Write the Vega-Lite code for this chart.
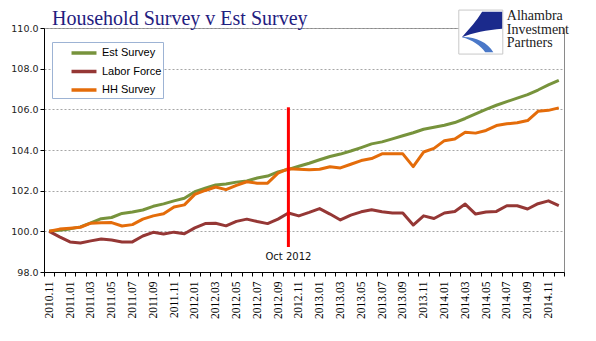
{
  "$schema": "https://vega.github.io/schema/vega-lite/v6.json",
  "width": 520,
  "height": 244,
  "autosize": {"type": "none"},
  "padding": {"left": 44, "top": 28, "right": 32, "bottom": 69},
  "background": "white",
  "title": {
    "text": "Household Survey v Est Survey",
    "anchor": "start",
    "frame": "group",
    "dx": 8,
    "dy": 23,
    "offset": 2,
    "font": "Liberation Serif",
    "fontSize": 20,
    "fontWeight": "normal",
    "color": "#1F2080"
  },
  "config": {
    "view": {"stroke": "#8a8a8a", "strokeWidth": 1},
    "font": "Liberation Sans"
  },
  "layer": [
    {
      "data": {
        "values": [
          {"month": "2010.11", "Est Survey": 100.0, "Labor Force": 100.0, "HH Survey": 100.0},
          {"month": "2010.12", "Est Survey": 100.05, "Labor Force": 99.73, "HH Survey": 100.11},
          {"month": "2011.01", "Est Survey": 100.12, "Labor Force": 99.48, "HH Survey": 100.15},
          {"month": "2011.02", "Est Survey": 100.22, "Labor Force": 99.43, "HH Survey": 100.2},
          {"month": "2011.03", "Est Survey": 100.42, "Labor Force": 99.53, "HH Survey": 100.4},
          {"month": "2011.04", "Est Survey": 100.62, "Labor Force": 99.62, "HH Survey": 100.42},
          {"month": "2011.05", "Est Survey": 100.68, "Labor Force": 99.57, "HH Survey": 100.43},
          {"month": "2011.06", "Est Survey": 100.88, "Labor Force": 99.48, "HH Survey": 100.26},
          {"month": "2011.07", "Est Survey": 100.95, "Labor Force": 99.48, "HH Survey": 100.33},
          {"month": "2011.08", "Est Survey": 101.05, "Labor Force": 99.77, "HH Survey": 100.6},
          {"month": "2011.09", "Est Survey": 101.23, "Labor Force": 99.95, "HH Survey": 100.76},
          {"month": "2011.10", "Est Survey": 101.35, "Labor Force": 99.87, "HH Survey": 100.86},
          {"month": "2011.11", "Est Survey": 101.5, "Labor Force": 99.96, "HH Survey": 101.2},
          {"month": "2011.12", "Est Survey": 101.63, "Labor Force": 99.88, "HH Survey": 101.3},
          {"month": "2012.01", "Est Survey": 101.95, "Labor Force": 100.17, "HH Survey": 101.82},
          {"month": "2012.02", "Est Survey": 102.12, "Labor Force": 100.38, "HH Survey": 102.01},
          {"month": "2012.03", "Est Survey": 102.28, "Labor Force": 100.4, "HH Survey": 102.18},
          {"month": "2012.04", "Est Survey": 102.33, "Labor Force": 100.27, "HH Survey": 102.05},
          {"month": "2012.05", "Est Survey": 102.42, "Labor Force": 100.49, "HH Survey": 102.26},
          {"month": "2012.06", "Est Survey": 102.48, "Labor Force": 100.6, "HH Survey": 102.44},
          {"month": "2012.07", "Est Survey": 102.62, "Labor Force": 100.48, "HH Survey": 102.37},
          {"month": "2012.08", "Est Survey": 102.72, "Labor Force": 100.38, "HH Survey": 102.37},
          {"month": "2012.09", "Est Survey": 102.92, "Labor Force": 100.6, "HH Survey": 102.86},
          {"month": "2012.10", "Est Survey": 103.05, "Labor Force": 100.9, "HH Survey": 103.08},
          {"month": "2012.11", "Est Survey": 103.2, "Labor Force": 100.76, "HH Survey": 103.05},
          {"month": "2012.12", "Est Survey": 103.35, "Labor Force": 100.93, "HH Survey": 103.03},
          {"month": "2013.01", "Est Survey": 103.52, "Labor Force": 101.12, "HH Survey": 103.05},
          {"month": "2013.02", "Est Survey": 103.68, "Labor Force": 100.85, "HH Survey": 103.18},
          {"month": "2013.03", "Est Survey": 103.8, "Labor Force": 100.56, "HH Survey": 103.12},
          {"month": "2013.04", "Est Survey": 103.95, "Labor Force": 100.8, "HH Survey": 103.3},
          {"month": "2013.05", "Est Survey": 104.12, "Labor Force": 100.96, "HH Survey": 103.48},
          {"month": "2013.06", "Est Survey": 104.3, "Labor Force": 101.06, "HH Survey": 103.58},
          {"month": "2013.07", "Est Survey": 104.4, "Labor Force": 100.96, "HH Survey": 103.81},
          {"month": "2013.08", "Est Survey": 104.55, "Labor Force": 100.9, "HH Survey": 103.81},
          {"month": "2013.09", "Est Survey": 104.7, "Labor Force": 100.9, "HH Survey": 103.81},
          {"month": "2013.10", "Est Survey": 104.85, "Labor Force": 100.31, "HH Survey": 103.18},
          {"month": "2013.11", "Est Survey": 105.02, "Labor Force": 100.76, "HH Survey": 103.9},
          {"month": "2013.12", "Est Survey": 105.12, "Labor Force": 100.63, "HH Survey": 104.08},
          {"month": "2014.01", "Est Survey": 105.22, "Labor Force": 100.9, "HH Survey": 104.46},
          {"month": "2014.02", "Est Survey": 105.35, "Labor Force": 100.98, "HH Survey": 104.54},
          {"month": "2014.03", "Est Survey": 105.55, "Labor Force": 101.34, "HH Survey": 104.87},
          {"month": "2014.04", "Est Survey": 105.78, "Labor Force": 100.85, "HH Survey": 104.83},
          {"month": "2014.05", "Est Survey": 106.0, "Labor Force": 100.95, "HH Survey": 104.96},
          {"month": "2014.06", "Est Survey": 106.2, "Labor Force": 100.98, "HH Survey": 105.2},
          {"month": "2014.07", "Est Survey": 106.38, "Labor Force": 101.26, "HH Survey": 105.29},
          {"month": "2014.08", "Est Survey": 106.55, "Labor Force": 101.26, "HH Survey": 105.34},
          {"month": "2014.09", "Est Survey": 106.72, "Labor Force": 101.1, "HH Survey": 105.45},
          {"month": "2014.10", "Est Survey": 106.95, "Labor Force": 101.36, "HH Survey": 105.9},
          {"month": "2014.11", "Est Survey": 107.2, "Labor Force": 101.5, "HH Survey": 105.95},
          {"month": "2014.12", "Est Survey": 107.42, "Labor Force": 101.27, "HH Survey": 106.07}
        ]
      },
      "transform": [
        {"fold": ["Est Survey", "Labor Force", "HH Survey"], "as": ["series", "value"]}
      ],
      "mark": {"type": "line", "strokeWidth": 3, "strokeJoin": "round"},
      "encoding": {
        "x": {
          "field": "month",
          "type": "ordinal",
          "bandPosition": 0.5,
          "scale": {"type": "band", "paddingInner": 0, "paddingOuter": 0},
          "axis": {
            "title": null,
            "labelAngle": -90,
            "labelAlign": "right",
            "labelBaseline": "middle",
            "labelFont": "Liberation Serif",
            "labelFontSize": 11.5,
            "labelColor": "black",
            "labelPadding": 5,
            "labelOverlap": false,
            "labelExpr": "toNumber(substring(datum.value, 5, 7)) % 2 == 1 ? datum.label : ''",
            "tickBand": "extent",
            "tickSize": 4,
            "tickColor": "black",
            "domainColor": "black",
            "grid": false
          }
        },
        "y": {
          "field": "value",
          "type": "quantitative",
          "scale": {"domain": [98, 110], "zero": false, "nice": false},
          "axis": {
            "title": null,
            "values": [98, 100, 102, 104, 106, 108, 110],
            "format": ".1f",
            "labelFont": "DejaVu Sans",
            "labelFontSize": 9.5,
            "labelColor": "#222222",
            "labelPadding": 2,
            "tickSize": 4,
            "tickColor": "black",
            "domainColor": "black",
            "gridColor": "#a6a6a6",
            "gridDash": [2, 2]
          }
        },
        "color": {
          "field": "series",
          "type": "nominal",
          "scale": {
            "domain": ["Est Survey", "Labor Force", "HH Survey"],
            "range": ["#77933C", "#953735", "#E46C0A"]
          },
          "legend": {
            "orient": "none",
            "legendX": 8,
            "legendY": 14,
            "title": null,
            "direction": "vertical",
            "strokeColor": "#9DB3D4",
            "fillColor": "white",
            "padding": 1,
            "rowPadding": 1.5,
            "labelFont": "Liberation Sans",
            "labelFontSize": 11,
            "labelColor": "black",
            "symbolType": "M-1.56,0H1.56",
            "symbolSize": 256,
            "symbolStrokeWidth": 3.5,
            "symbolOffset": 21,
            "labelOffset": 8,
            "labelExpr": "datum.label + '\u2003\u2003'"
          }
        }
      }
    },
    {
      "data": {"values": [{}]},
      "mark": {"type": "rule", "color": "#FF0000", "strokeWidth": 3},
      "encoding": {
        "x": {"datum": "2012.10", "type": "ordinal", "bandPosition": 0.5},
        "y": {"datum": 106.1, "type": "quantitative"},
        "y2": {"datum": 99.23}
      }
    },
    {
      "data": {"values": [{}]},
      "mark": {"type": "text", "text": "Oct 2012", "font": "DejaVu Sans", "fontSize": 10, "color": "#111111", "baseline": "middle", "align": "center"},
      "encoding": {
        "x": {"datum": "2012.10", "type": "ordinal", "bandPosition": 0.5},
        "y": {"datum": 98.74, "type": "quantitative"}
      }
    },
    {
      "data": {"values": [{}]},
      "mark": {"type": "rect", "color": "white"},
      "encoding": {
        "x": {"datum": "2014.03", "type": "ordinal", "bandPosition": 0},
        "x2": {"datum": "2014.12", "bandPosition": 1},
        "y": {"datum": 110.3, "type": "quantitative"},
        "y2": {"datum": 108.9}
      }
    },
    {
      "data": {"values": [{}]},
      "mark": {"type": "point", "shape": "square", "filled": true, "fill": "white", "stroke": "#c8c8c8", "strokeWidth": 1, "size": 1936, "opacity": 1},
      "encoding": {
        "x": {"datum": "2014.04", "type": "ordinal", "bandPosition": 1},
        "y": {"datum": 109.8, "type": "quantitative"}
      }
    },
    {
      "data": {"values": [{}]},
      "mark": {"type": "point", "shape": "M0.06,-0.92L0.97,-0.92L0.97,-0.15C0.3,-0.1,-0.4,0.05,-0.86,0.23C-0.5,-0.15,-0.2,-0.5,0.06,-0.92Z", "filled": true, "fill": "#1B2A8C", "strokeWidth": 0, "size": 1936, "opacity": 1},
      "encoding": {
        "x": {"datum": "2014.04", "type": "ordinal", "bandPosition": 1},
        "y": {"datum": 109.8, "type": "quantitative"}
      }
    },
    {
      "data": {"values": [{}]},
      "mark": {"type": "point", "shape": "M-0.86,0.23C-0.3,0.2,0.3,0.45,0.57,0.92L0.2,0.92C0,0.6,-0.4,0.35,-0.86,0.23Z", "filled": true, "fill": "#4A78C8", "strokeWidth": 0, "size": 1936, "opacity": 1},
      "encoding": {
        "x": {"datum": "2014.04", "type": "ordinal", "bandPosition": 1},
        "y": {"datum": 109.8, "type": "quantitative"}
      }
    },
    {
      "data": {"values": [{}]},
      "mark": {"type": "text", "text": "Alhambra\nInvestment\nPartners", "lineBreak": "\n", "lineHeight": 13.5, "font": "Liberation Serif", "fontSize": 14, "color": "#222222", "align": "left", "baseline": "alphabetic"},
      "encoding": {
        "x": {"datum": "2014.07", "type": "ordinal", "bandPosition": 0.5},
        "y": {"datum": 110.39, "type": "quantitative"}
      }
    }
  ]
}
